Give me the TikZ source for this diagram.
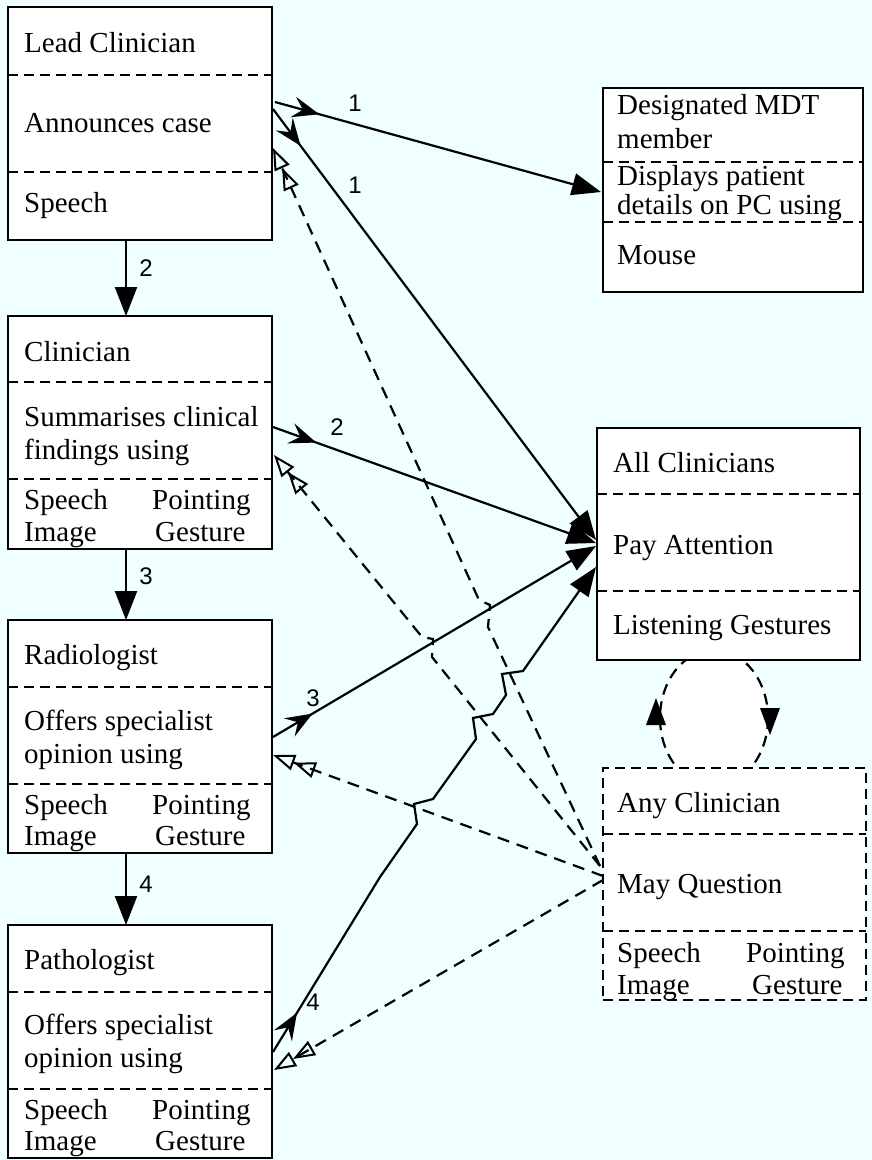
\documentclass[tikz,border=0pt]{standalone}
\usepackage{fontspec}
\setmainfont{Liberation Serif}
\newfontfamily\lblfont{Liberation Sans}
\usetikzlibrary{arrows.meta,decorations.markings,calc}
\definecolor{bgcol}{RGB}{240,255,255}
\tikzset{
 box/.style={draw, line width=2.4pt, fill=white, minimum width=264pt, minimum height=233pt, anchor=north west, inner sep=0pt, outer sep=0pt},
 dbox/.style={box, dash pattern=on 10pt off 6pt},
 divider/.style={line width=2.2pt, dash pattern=on 10pt off 6pt},
 txt/.style={anchor=base west, inner sep=0pt, font=\fontsize{29}{33}\selectfont},
 lbl/.style={inner sep=0pt, font=\lblfont\fontsize{24}{26}\selectfont},
 solidconn/.style={line width=2.2pt, -{Triangle[length=29pt,width=22pt]}, postaction={decorate}, decoration={markings, mark=at position 46pt with {\arrow{Stealth[length=27pt,width=21pt,inset=10pt]}}}},
 qconn/.style={line width=2.2pt, dash pattern=on 12pt off 8pt, -{Triangle[open,length=22pt,width=16pt,line width=2pt]Triangle[open,length=22pt,width=16pt,line width=2pt]}},
 varrow/.style={line width=2.2pt, -{Triangle[length=29pt,width=22pt]}},
 loopline/.style={line width=2.2pt, dash pattern=on 11pt off 7pt, fill=white},
}
\begin{document}
\begin{tikzpicture}[x=1pt,y=-1pt]
\fill[bgcol] (0,0) rectangle (872,1160);
\useasboundingbox (0,0) rectangle (872,1160);

% loop between All Clinicians and Any Clinician
\draw[loopline] (714,718) ellipse [x radius=54, y radius=68];
\fill (646,725) -- (666,725) -- (656,698) -- cycle;
\fill (760,708) -- (780,708) -- (770,735) -- cycle;

% boxes
\node[box] (lead) at (8,7) {};
\node[box, minimum width=260pt, minimum height=204pt] (mdt) at (603,88) {};
\node[box] (clin) at (8,316) {};
\node[box] (rad) at (8,620) {};
\node[box] (path) at (8,925) {};
\node[box, minimum width=263pt, minimum height=232pt] (all) at (597,428) {};
\node[dbox, minimum width=263pt, minimum height=232pt] (any) at (603,768) {};

% dividers
\foreach \b/\a/\c in {lead/68/165, clin/66/163, rad/67/164, path/67/164, all/66/163, any/66/163, mdt/74/134}{
  \draw[divider] ($(\b.north west)+(0,\a)$) -- ($(\b.north east)+(0,\a)$);
  \draw[divider] ($(\b.north west)+(0,\c)$) -- ($(\b.north east)+(0,\c)$);
}

% texts
\node[txt] (t1) at (24,52) {Lead Clinician};
\node[txt] (t2) at (24,132) {Announces case};
\node[txt] (t3) at (24,212) {Speech};

\node[txt] (m1) at (617,114) {Designated MDT};
\node[txt] (m2) at (617,148) {member};
\node[txt] (m3) at (617,185) {Displays patient};
\node[txt] (m4) at (617,214) {details on PC using};
\node[txt] (m5) at (617,264) {Mouse};

\node[txt] (c1) at (24,361) {Clinician};
\node[txt] (c2) at (24,426) {Summarises clinical};
\node[txt] (c3) at (24,459) {findings using};
\node[txt] (c4) at (24,509) {Speech};
\node[txt] (c5) at (152,509) {Pointing};
\node[txt] (c6) at (24,541) {Image};
\node[txt] (c7) at (155,541) {Gesture};

\node[txt] (r1) at (24,664) {Radiologist};
\node[txt] (r2) at (24,730) {Offers specialist};
\node[txt] (r3) at (24,763) {opinion using};
\node[txt] (r4) at (24,814) {Speech};
\node[txt] (r5) at (152,814) {Pointing};
\node[txt] (r6) at (24,845) {Image};
\node[txt] (r7) at (155,845) {Gesture};

\node[txt] (p1) at (24,969) {Pathologist};
\node[txt] (p2) at (24,1034) {Offers specialist};
\node[txt] (p3) at (24,1067) {opinion using};
\node[txt] (p4) at (24,1119) {Speech};
\node[txt] (p5) at (152,1119) {Pointing};
\node[txt] (p6) at (24,1150) {Image};
\node[txt] (p7) at (155,1150) {Gesture};

\node[txt] (a1) at (613,472) {All Clinicians};
\node[txt] (a2) at (613,554) {Pay Attention};
\node[txt] (a3) at (613,634) {Listening Gestures};

\node[txt] (q1) at (617,812) {Any Clinician};
\node[txt] (q2) at (617,893) {May Question};
\node[txt] (q3) at (617,962) {Speech};
\node[txt] (q4) at (746,962) {Pointing};
\node[txt] (q5) at (617,994) {Image};
\node[txt] (q6) at (752,994) {Gesture};

% vertical arrows
\draw[varrow] ($(lead.south)+(-14,0)$) -- ($(clin.north)+(-14,0)$);
\draw[varrow] ($(clin.south)+(-14,0)$) -- ($(rad.north)+(-14,0)$);
\draw[varrow] ($(rad.south)+(-14,0)$) -- ($(path.north)+(-14,0)$);
\node[lbl] (v2) at (146,268) {2};
\node[lbl] (v3) at (146,576) {3};
\node[lbl] (v4) at (146,884) {4};

% question connectors (dashed, double open heads)
\draw[qconn] ($(any.north west)+(-3,98)$) -- (488,627) -- (490,605) -- (479,600) -- ($(lead.north east)+(1,141)$);
\draw[qconn] ($(any.north west)+(-3,98)$) -- (432,657) -- (433,639) -- (422,637) -- ($(clin.north east)+(2,139)$);
\draw[qconn] ($(any.north west)+(0,108)$) -- ($(rad.north east)+(1,135)$);
\draw[qconn] ($(any.north west)+(0,112)$) -- ($(path.north east)+(2,145)$);

% solid connectors
\draw[solidconn] ($(lead.north east)+(3,95)$) -- ($(mdt.north west)+(-2,104)$);
\draw[solidconn] ($(lead.north east)+(1,102)$) -- ($(all.north west)+(-1,112)$);
\draw[solidconn] ($(clin.north east)+(1,111)$) -- ($(all.north west)+(-1,115)$);
\draw[solidconn] ($(rad.north east)+(1,117)$) -- ($(all.north west)+(-1,118)$);
\draw[solidconn] ($(path.north east)+(1,127)$) -- (380,877) -- (417,824) -- (414,804) -- (433,799) -- (476,739) -- (473,718) -- (493,714) -- (506,695) -- (502,674) -- (523,671) -- ($(all.north west)+(-1,139)$);

\node[lbl] (n1) at (355,103) {1};
\node[lbl] (n1b) at (355,185) {1};
\node[lbl] (n2) at (337,427) {2};
\node[lbl] (n3) at (313,698) {3};
\node[lbl] (n4) at (313,1002) {4};
\end{tikzpicture}
\end{document}
